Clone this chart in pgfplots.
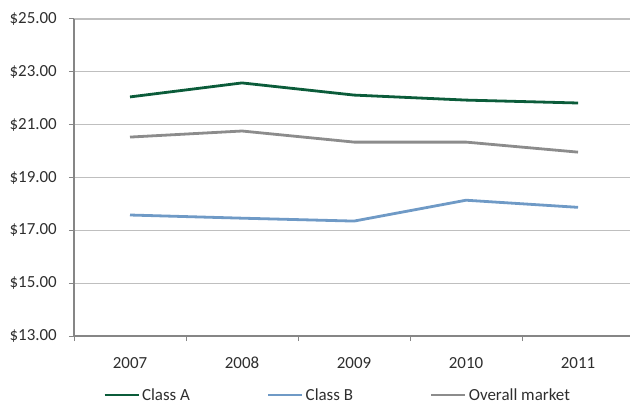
\documentclass[border=0pt]{standalone}
\usepackage{fontspec}
\setmainfont{Carlito}
\usepackage{pgfplots}
\pgfplotsset{compat=1.18}
\definecolor{cA}{HTML}{0B5C3A}
\definecolor{cB}{HTML}{6F9AC6}
\definecolor{cO}{HTML}{8C8C8C}
\definecolor{gridc}{HTML}{BFBFBF}
\definecolor{axc}{HTML}{868686}
\pgfplotsset{mylegend/.style={legend image code/.code={\draw[##1] (0bp,0bp) -- (34bp,0bp);}}}
\begin{document}
\begin{tikzpicture}
\begin{axis}[
  name=ax,
  scale only axis,
  width=556bp, height=317bp,
  xmin=-0.5, xmax=4.464,
  ymin=13, ymax=25,
  axis x line*=bottom, axis y line*=left,
  axis line style={axc, line width=1.2bp, -},
  xtick={0,1,2,3,4},
  xticklabels={2007,2008,2009,2010,2011},
  minor xtick={-0.5,0.5,1.5,2.5,3.5},
  major x tick style={draw=none},
  minor x tick style={axc, line width=1bp},
  minor tick length=5bp,
  ytick={13,15,17,19,21,23,25},
  yticklabels={\$13.00,\$15.00,\$17.00,\$19.00,\$21.00,\$23.00,\$25.00},
  y tick style={axc, line width=1bp},
  major tick length=5bp,
  tick align=outside,
  ymajorgrids,
  grid style={gridc, line width=1.2bp},
  tick label style={font=\fontsize{17}{20}\selectfont, text=black!82},
  yticklabel style={inner sep=0pt, anchor=east, xshift=-12bp},
  xticklabel style={inner sep=0pt, anchor=north, yshift=-16bp},
  legend columns=3,
  legend style={draw=none, fill=none, inner sep=0pt, at={(axis description cs:0.0522,-0.186)}, anchor=west,
    font=\fontsize{17}{20}\selectfont, text=black!82,
    /tikz/every even column/.append style={column sep=77bp},
    /tikz/every odd column/.append style={column sep=2bp},
    nodes={inner sep=0pt}},
]
\addplot[cA, line width=2.8bp, mylegend] coordinates {(0,22.05) (1,22.58) (2,22.12) (3,21.93) (4,21.82)};
\addlegendentry{Class A}
\addplot[cB, line width=2.8bp, mylegend] coordinates {(0,17.58) (1,17.46) (2,17.35) (3,18.14) (4,17.87)};
\addlegendentry{Class B}
\addplot[cO, line width=2.8bp, mylegend] coordinates {(0,20.53) (1,20.76) (2,20.34) (3,20.34) (4,19.96)};
\addlegendentry{Overall market}
\end{axis}
\pgfresetboundingbox
\path[use as bounding box] ([shift={(-74bp,-67bp)}]ax.south west) rectangle ([shift={(0bp,19bp)}]ax.north east);
\end{tikzpicture}
\end{document}
